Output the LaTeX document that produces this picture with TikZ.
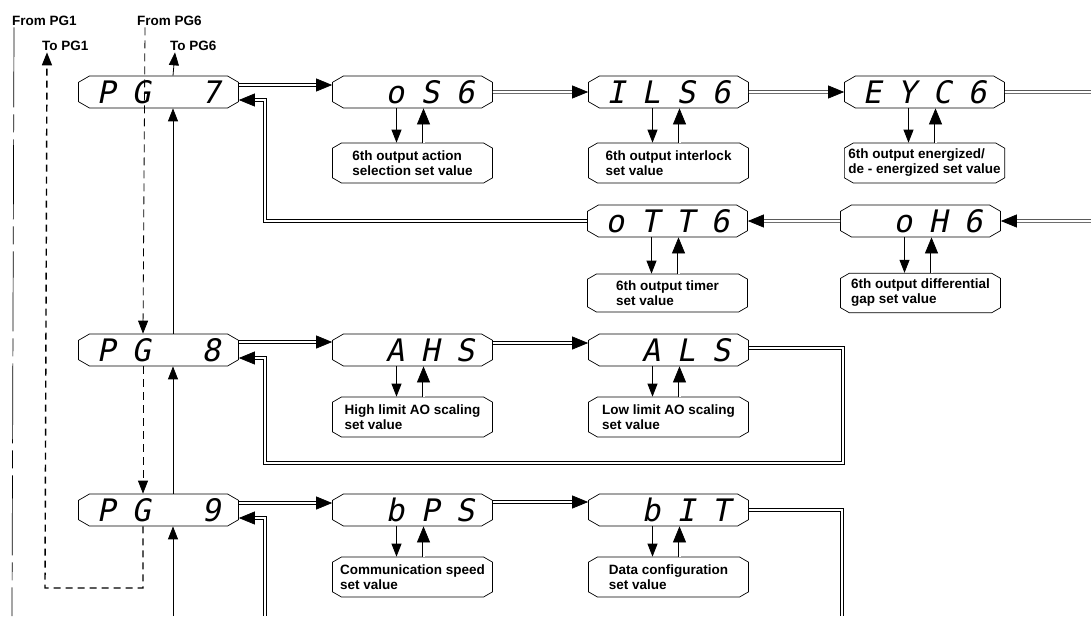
\documentclass[tikz,border=0pt]{standalone}
\usepackage{fontspec}
\setmainfont{Liberation Sans}
\newfontfamily\segfont{DejaVu Sans Mono}[FakeSlant=0.2]
\usetikzlibrary{arrows.meta,shapes.misc}
\newcommand\seg[4]{\segfont\makebox[35pt]{#1}\makebox[35pt]{#2}\makebox[35pt]{#3}\makebox[35pt]{#4}}

\begin{document}
\begin{tikzpicture}[x=1pt,y=-1pt,
	disp/.style={draw,line width=0.7pt,chamfered rectangle,chamfered rectangle angle=60,chamfered rectangle xsep=4pt,chamfered rectangle ysep=4pt,minimum width=160pt,minimum height=32pt,inner sep=0pt,font=\fontsize{31}{31}\selectfont},
	setv/.style={draw,line width=0.7pt,chamfered rectangle,chamfered rectangle angle=60,chamfered rectangle xsep=2pt,chamfered rectangle ysep=4pt,minimum width=160pt,minimum height=40pt,inner sep=2pt,align=left,font=\bfseries\fontsize{13.5}{15}\selectfont},
	lbl/.style={anchor=base west,inner sep=2pt,font=\bfseries\fontsize{13.5}{15}\selectfont},
	arr/.style={line width=0.8pt,-{Triangle[length=13pt,width=10pt]}},
	dblarr/.style={double,double distance=2pt,line width=0.7pt,-{Triangle[length=16pt,width=13pt]}},
	dbl/.style={double,double distance=2pt,line width=0.7pt},
	jumpline/.style={line width=0.8pt,dash pattern=on 8pt off 5pt},
	backline/.style={line width=1.4pt,dash pattern=on 7pt off 5pt},
	entryline/.style={line width=0.7pt,dash pattern=on 80pt off 7pt on 18pt off 7pt}]
	\useasboundingbox (0,0) rectangle (1091,616);

	% page labels
	\node[lbl] (from1) at (10,25) {From PG1};
	\node[lbl] (to1) at (40,50) {To PG1};
	\node[lbl] (from6) at (135,25) {From PG6};
	\node[lbl] (to6) at (168,50) {To PG6};

	% PG 7
	\node[disp] (pg7) at (158.5,92) {\seg{P}{G}{}{7}};
	\node[disp] (os) at (412.5,92) {\seg{}{o}{S}{6}};
	\node[disp] (ils) at (668.5,92) {\seg{I}{L}{S}{6}};
	\node[disp] (eyc) at (924.5,92) {\seg{E}{Y}{C}{6}};
	\node[disp] (otm) at (667.5,221) {\seg{o}{T}{T}{6}};
	\node[disp] (oh) at (920.5,221) {\seg{}{o}{H}{6}};
	\node[setv] (os-val) at (412.5,163) {6th output action\\selection set value};
	\node[setv] (ils-val) at (668.5,163) {6th output interlock\\set value};
	\node[setv] (eyc-val) at (924.5,163) {6th output energized/\\de - energized set value};
	\node[setv,minimum height=38pt] (otm-val) at (667.5,293) {6th output timer\\set value};
	\node[setv,minimum height=38pt] (oh-val) at (920.5,293) {6th output differential\\gap set value};

	% PG 8
	\node[disp] (pg8) at (158.5,350) {\seg{P}{G}{}{8}};
	\node[disp] (ahs) at (412.5,350) {\seg{}{A}{H}{S}};
	\node[disp] (als) at (668.5,350) {\seg{}{A}{L}{S}};
	\node[setv] (ahs-val) at (412.5,417) {High limit AO scaling\\set value};
	\node[setv] (als-val) at (668.5,417) {Low limit AO scaling\\set value};

	% PG 9
	\node[disp] (pg9) at (158.5,510) {\seg{P}{G}{}{9}};
	\node[disp] (bps) at (412.5,510) {\seg{}{b}{P}{S}};
	\node[disp] (bit) at (668.5,510) {\seg{}{b}{I}{T}};
	\node[setv] (bps-val) at (412.5,577) {Communication speed\\set value};
	\node[setv] (bit-val) at (668.5,577) {Data configuration\\set value};

	\coordinate (out1) at (12,616);
	\coordinate (d9) at (45,588);
	\coordinate (in9) at (173,616);
	\coordinate (r9) at (265,616);
	\coordinate (r8) at (843,463);
	\coordinate (b9) at (842,616);
	\coordinate (eycout) at (1091,92);
	\coordinate (ohin) at (1091,221);

	% set values
	\foreach \m in {os,ils,eyc,otm,oh,ahs,als,bps,bit} {
		\draw[arr] ([xshift=-16pt]\m.south) -- ([xshift=-16pt]\m-val.north);
		\draw[dblarr] ([xshift=11pt]\m-val.north) -- ([xshift=11pt]\m.south);
	}

	% PG 7 loop
	\draw[dblarr] ([yshift=7pt]pg7.east) -- ([yshift=7pt]os.west);
	\draw[dblarr] (os) -- (ils);
	\draw[dblarr] (ils) -- (eyc);
	\draw[dbl] (eyc) -- (eycout);
	\draw[dblarr] (ohin) -- (oh);
	\draw[dblarr] (oh) -- (otm);
	\draw[dblarr] (otm.west) -| ([shift={(26pt,-8pt)}]pg7.east) -- ([yshift=-8pt]pg7.east);

	% PG 8 loop
	\draw[dblarr] ([yshift=8pt]pg8.east) -- ([yshift=8pt]ahs.west);
	\draw[dblarr] ([yshift=7pt]ahs.east) -- ([yshift=7pt]als.west);
	\draw[dblarr] ([yshift=2pt]als.east) -| (r8) -| ([shift={(26pt,-8pt)}]pg8.east) -- ([yshift=-8pt]pg8.east);

	% PG 9 loop
	\draw[dblarr] ([yshift=7pt]pg9.east) -- ([yshift=7pt]bps.west);
	\draw[dblarr] ([yshift=8pt]bps.east) -- ([yshift=8pt]bit.west);
	\draw[dbl] (bit.east) -| (b9);
	\draw[dblarr] (r9) |- ([yshift=-8pt]pg9.east);

	% page to page
	\draw[entryline] ([xshift=4pt]from1.south west) -- (out1);
	\draw[jumpline,-{Triangle[length=13pt,width=10pt]}] ([xshift=10pt]from6.south west) -- ([xshift=-15.5pt]pg8.north);
	\draw[jumpline,-{Triangle[length=13pt,width=10pt]}] ([xshift=-15.5pt]pg8.south) -- ([xshift=-15.5pt]pg9.north);
	\draw[backline,-{Triangle[length=13pt,width=10pt]}] ([xshift=-15.5pt]pg9.south) |- (d9) -- ([xshift=7pt]to1.south west);
	\draw[arr] ([xshift=14.5pt]pg7.north) -- ([xshift=7pt]to6.south west);
	\draw[arr] ([xshift=14.5pt]pg8.north) -- ([xshift=14.5pt]pg7.south);
	\draw[arr] ([xshift=14.5pt]pg9.north) -- ([xshift=14.5pt]pg8.south);
	\draw[arr] (in9) -- (in9 |- pg9.south);
\end{tikzpicture}
\end{document}
